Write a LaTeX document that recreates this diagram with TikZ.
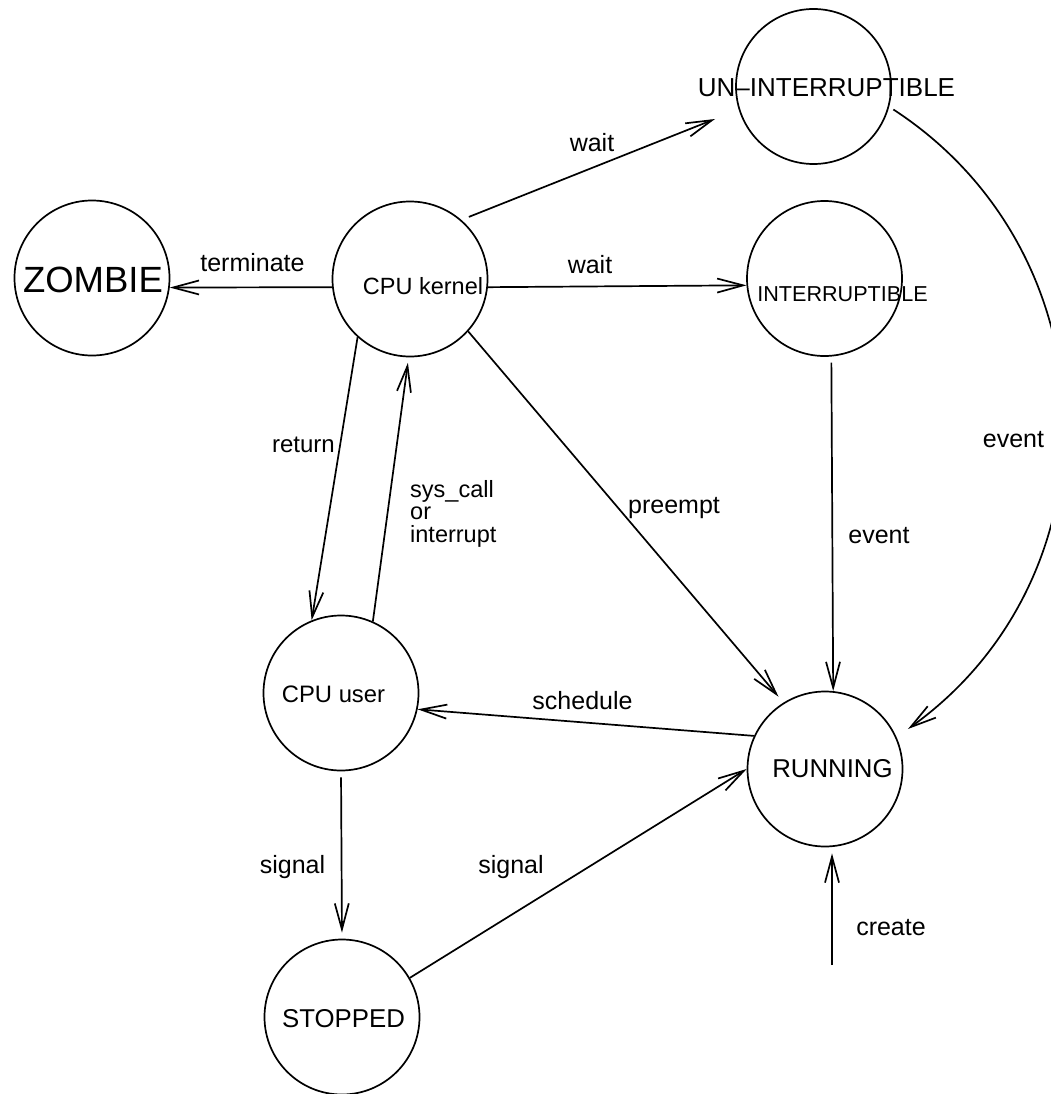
\documentclass[tikz,border=0pt]{standalone}
\usepackage{fontspec}
\setmainfont{Liberation Sans}
\usetikzlibrary{arrows.meta}
\newcommand\myfs[1]{\fontsize{#1}{#1}\selectfont}
\tikzset{
  state/.style={circle, draw, line width=1.7pt, minimum size=155pt, inner sep=0pt},
  txt/.style={anchor=base, inner sep=0pt},
  arr/.style={line width=1.7pt, -{Straight Barb[length=26pt, width=14pt]}},
}
\begin{document}
\begin{tikzpicture}[x=1pt, y=-1pt]
\useasboundingbox (0,0) rectangle (1051,1094);
% states
\node[state] (zombie)  at (92,278) {};
\node[state] (kernel)  at (410,279) {};
\node[state] (unint)   at (813.5,86.5) {};
\node[state] (int)     at (824.5,278.5) {};
\node[state] (user)    at (341,693) {};
\node[state] (stopped) at (342,1017) {};
\node[state] (running) at (825,769) {};
% state texts
\node[txt, font=\myfs{36.5}] (tzombie)  at (93,292)     {ZOMBIE};
\node[txt, font=\myfs{23.5}] (tkernel)  at (423,294)    {CPU kernel};
\node[txt, font=\myfs{26}]   (tunint)   at (826.5,97)   {UN–INTERRUPTIBLE};
\node[txt, font=\myfs{21.6}] (tint)     at (842.5,301)  {INTERRUPTIBLE};
\node[txt, font=\myfs{23.8}] (tuser)    at (333.5,702)  {CPU user};
\node[txt, font=\myfs{25.8}] (tstopped) at (343.5,1027) {STOPPED};
\node[txt, font=\myfs{25.8}] (trunning) at (832.5,777)  {RUNNING};
% free coordinates
\coordinate (waitend) at (715,119);
\coordinate (cstart) at (832,965);
% connectors
\draw[arr] (kernel.186) -- (zombie.353.4);
\draw[arr, shorten <=8pt] (kernel.49.5) -- (waitend);
\draw[arr] (kernel.354.8) -- (int.185.2);
\draw[arr] (kernel.228.5) -- (user.112.2);
\draw[arr, shorten >=5.5pt] (user.66) -- (kernel.269.1);
\draw[arr, shorten >=7.7pt] (kernel.318.5) -- (running.122.8);
\draw[arr, shorten <=6pt] (int.275.55) -- (running.84.8);
\draw[arr, shorten <=5pt, shorten >=14pt] (unint.345) .. controls (1114,253) and (1122,576) .. (running.24.3);
\draw[arr] (running.155.5) -- (user.348);
\draw[arr, shorten <=6pt, shorten >=6pt] (user.270) -- (stopped.90);
\draw[arr] (stopped.30) -- (running.180);
\draw[arr, shorten >=6pt] (cstart) -- (cstart |- running.south);
% labels
\node[txt, font=\myfs{25}] (lterm)  at (252.5,271) {terminate};
\node[txt, font=\myfs{25}] (lwait1) at (592,152)   {wait};
\node[txt, font=\myfs{25}] (lwait2) at (590,273)   {wait};
\node[txt, font=\myfs{24}, anchor=base east] (lret) at (335,452) {return};
\node[txt, anchor=base west, align=left, font=\fontsize{23.5}{22.5}\selectfont] (lsys) at (410,542) {sys\_call\\or\\interrupt};
\node[txt, font=\myfs{25}] (lpre)   at (674,513)   {preempt};
\node[txt, font=\myfs{25}] (lev1)   at (879,543)   {event};
\node[txt, font=\myfs{25}] (lev2)   at (1013.5,447) {event};
\node[txt, font=\myfs{25}] (lsch)   at (582.5,709) {schedule};
\node[txt, font=\myfs{25}] (lsig1)  at (292.5,873) {signal};
\node[txt, font=\myfs{25}] (lsig2)  at (511,873)   {signal};
\node[txt, font=\myfs{25}] (lcre)   at (891,935)   {create};
\end{tikzpicture}
\end{document}
